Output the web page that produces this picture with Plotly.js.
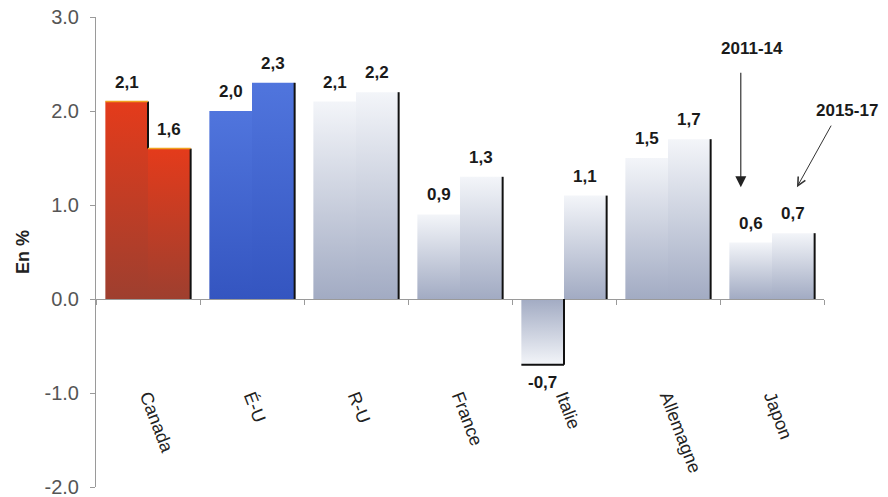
<!DOCTYPE html>
<html>
<head>
<meta charset="utf-8">
<script src="https://cdn.plot.ly/plotly-3.0.1.min.js"></script>
<style>
html,body{margin:0;padding:0;background:#fff;}
#chart{width:888px;height:497px;}
</style>
</head>
<body>
<div id="chart"></div>
<script>
// ---- Data ----
const categories = ['Canada', 'É-U', 'R-U', 'France', 'Italie', 'Allemagne', 'Japon'];
const period1 = '2011-14';
const period2 = '2015-17';
const values1114 = [2.1, 2.0, 2.1, 0.9, -0.7, 1.5, 0.6];
const values1517 = [1.6, 2.3, 2.2, 1.3, 1.1, 1.7, 0.7];
const yTicks = [-2, -1, 0, 1, 2, 3];
const yTickText = ['-2.0', '-1.0', '0.0', '1.0', '2.0', '3.0'];

// ---- Styles ----
const palette = {
  red:  {top: '#e43b1b', bottom: '#9e3f2f', mid: '#c93c22'},
  blue: {top: '#5075dd', bottom: '#3455c0', mid: '#4264d2'},
  gray: {top: '#f3f5f9', bottom: '#a2abc3', mid: '#cfd4e1'}
};
const catScheme = ['red', 'blue', 'gray', 'gray', 'gray', 'gray', 'gray'];
const BAR_W = 0.41;
const regular = '"Liberation Sans", Arial, sans-serif';
const labelFont = {family: regular, size: 17, color: '#1a1a1a', weight: 'bold'};

const fmt = v => v.toFixed(1).replace('.', ',');
const idx = categories.map((c, i) => i);

const traces = [
  {type: 'bar', name: period1, x: categories, y: values1114, offset: -BAR_W, width: BAR_W,
   marker: {color: catScheme.map(s => palette[s].mid), line: {width: 0}}, hoverinfo: 'skip'},
  {type: 'bar', name: period2, x: categories, y: values1517, offset: 0, width: BAR_W,
   marker: {color: catScheme.map(s => palette[s].mid), line: {width: 0}}, hoverinfo: 'skip'}
];

// dark "shadow" edges computed from the data
const shapes = [];
const edge = {color: '#111', width: 2};
idx.forEach(i => {
  const a = values1114[i], b = values1517[i];
  shapes.push({type: 'line', xref: 'x', yref: 'y', x0: i + BAR_W, x1: i + BAR_W, y0: 0, y1: b, line: edge});
  const sameSign = (a >= 0) === (b >= 0);
  if (!sameSign || Math.abs(a) > Math.abs(b)) {
    shapes.push({type: 'line', xref: 'x', yref: 'y', x0: i, x1: i, y0: sameSign ? b : 0, y1: a, line: edge});
  }
  [[a, -BAR_W, 0], [b, 0, BAR_W]].forEach(([v, o0, o1]) => {
    if (v < 0) shapes.push({type: 'line', xref: 'x', yref: 'y', x0: i + o0, x1: i + o1, y0: v, y1: v, line: edge});
  });
  if (catScheme[i] === 'red') {
    [[a, -BAR_W, 0], [b, 0, BAR_W]].forEach(([v, o0, o1]) => {
      shapes.push({type: 'line', xref: 'x', yref: 'y', x0: i + o0, x1: i + o1, y0: v, y1: v, line: {color: '#f0a020', width: 1.5}});
    });
  }
});

// value labels
const annotations = [];
idx.forEach(i => {
  [[values1114[i], -BAR_W / 2], [values1517[i], BAR_W / 2]].forEach(([v, o]) => {
    annotations.push({x: i + o, y: v, xref: 'x', yref: 'y', text: fmt(v), showarrow: false,
      xanchor: 'center', yanchor: v >= 0 ? 'bottom' : 'top', yshift: v >= 0 ? 8 : -6, font: labelFont});
  });
});
// period call-outs (paper coords relative to plot area)
const calloutFont = {family: regular, size: 17, color: '#1a1a1a', weight: 'bold'};
annotations.push({xref: 'paper', yref: 'paper', x: 0.901, y: 0.934, xanchor: 'center', yanchor: 'middle',
  text: period1, showarrow: false, font: calloutFont});
annotations.push({xref: 'paper', yref: 'paper', x: 1.032, y: 0.802, xanchor: 'center', yanchor: 'middle',
  text: period2, showarrow: false, font: calloutFont});
annotations.push({xref: 'x', yref: 'y', x: 6 - 0.30, y: 1.19, text: '', showarrow: true, ax: 0, ay: -116,
  arrowhead: 2, arrowsize: 2, arrowwidth: 1.1, arrowcolor: '#222'});
annotations.push({xref: 'x', yref: 'y', x: 6 + 0.24, y: 1.19, text: '', showarrow: true, ax: 35, ay: -63,
  arrowhead: 5, arrowsize: 1.6, arrowwidth: 1, arrowcolor: '#333'});

const layout = {
  width: 888, height: 497,
  margin: {l: 96, r: 64, t: 17, b: 10},
  paper_bgcolor: '#ffffff', plot_bgcolor: '#ffffff',
  showlegend: false,
  barmode: 'overlay',
  xaxis: {
    type: 'category', range: [-0.5, categories.length - 0.5],
    anchor: 'free', position: 0.4,
    showline: true, linecolor: '#9a9a9a', linewidth: 1,
    ticks: 'outside', tickson: 'boundaries', ticklen: 5, tickcolor: '#9a9a9a',
    tickangle: 69, ticklabelstandoff: 79,
    tickfont: {family: regular, size: 18, color: '#222'},
    showgrid: false, zeroline: false, fixedrange: true
  },
  yaxis: {
    range: [-2, 3], tickvals: yTicks, ticktext: yTickText,
    showline: true, linecolor: '#9a9a9a', linewidth: 1,
    ticks: 'outside', ticklen: 5, tickcolor: '#9a9a9a', ticklabelstandoff: 7,
    ticklabeloverflow: 'allow',
    tickfont: {family: regular, size: 20, color: '#555'},
    showgrid: false, zeroline: false, fixedrange: true,
    title: {text: 'En %', standoff: 10, font: {family: regular, size: 18, color: '#222', weight: 'bold'}}
  },
  shapes: shapes,
  annotations: annotations
};

function applyGradients(gd) {
  const NS = 'http://www.w3.org/2000/svg';
  const svg = gd.querySelector('svg.main-svg');
  let defs = svg.querySelector('defs');
  if (!defs) { defs = document.createElementNS(NS, 'defs'); svg.insertBefore(defs, svg.firstChild); }
  const series = [values1114, values1517];
  gd.querySelectorAll('.barlayer .trace').forEach((tr, t) => {
    tr.querySelectorAll('.point path').forEach((p, i) => {
      const v = series[t][i];
      const pal = palette[catScheme[i]];
      const id = 'grad_' + t + '_' + i;
      const g = document.createElementNS(NS, 'linearGradient');
      g.setAttribute('id', id);
      g.setAttribute('x1', '0'); g.setAttribute('y1', '0');
      g.setAttribute('x2', '0'); g.setAttribute('y2', '1');
      const c0 = v >= 0 ? pal.top : pal.bottom;
      const c1 = v >= 0 ? pal.bottom : pal.top;
      [[0, c0], [1, c1]].forEach(([off, col]) => {
        const s = document.createElementNS(NS, 'stop');
        s.setAttribute('offset', off);
        s.setAttribute('stop-color', col);
        g.appendChild(s);
      });
      defs.appendChild(g);
      p.style.fill = 'url(#' + id + ')';
    });
  });
}

Plotly.newPlot('chart', traces, layout, {displayModeBar: false, staticPlot: true}).then(applyGradients);
</script>
</body>
</html>
